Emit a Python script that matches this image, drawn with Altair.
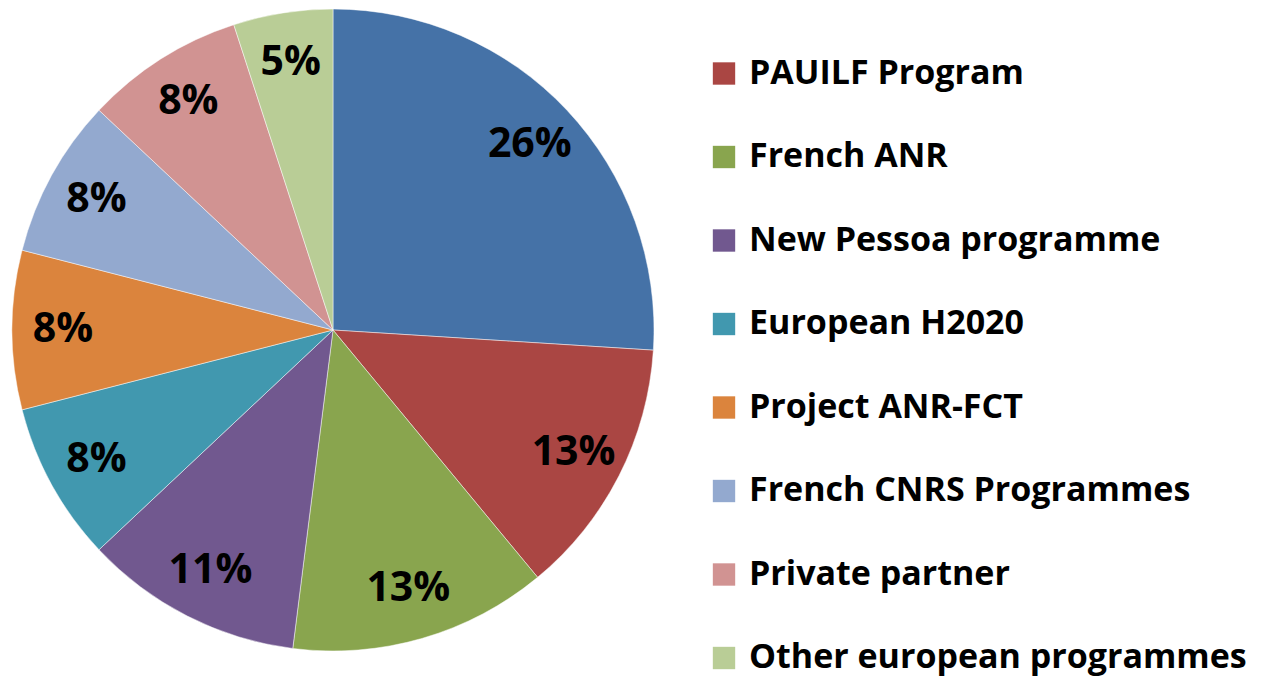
import altair as alt
import pandas as pd

categories = ["Other", "PAUILF Program", "French ANR", "New Pessoa programme",
              "European H2020", "Project ANR-FCT", "French CNRS Programmes",
              "Private partner", "Other european programmes"]
shares = [26, 13, 13, 11, 8, 8, 8, 8, 5]
colors = ["#4572A7", "#AA4643", "#89A54E", "#71588F", "#4198AF",
          "#DB843D", "#93A9CF", "#D19392", "#B9CD96"]

df = pd.DataFrame({
    "category": categories,
    "share": shares,
    "idx": list(range(len(categories))),
    "label": [f"{s}%" for s in shares],
})

FONT = "Open Sans"
color = alt.Color("category:N", scale=alt.Scale(domain=categories, range=colors), legend=None)
theta = alt.Theta("share:Q", stack=True)
order = alt.Order("idx:Q")
cx, cy = 325, 322

base = alt.Chart(df)

arcs = base.mark_arc(outerRadius=321, stroke="#ffffff", strokeWidth=0.8, strokeOpacity=0.6).encode(
    theta=theta, color=color, order=order,
    x=alt.value(cx), y=alt.value(cy),
)

labels = base.mark_text(radius=270, font=FONT, fontWeight="bold", fontSize=41,
                        color="#000000", align="center", baseline="middle").encode(
    theta=theta, order=order, text="label:N",
    x=alt.value(cx), y=alt.value(cy),
)

ypos = alt.Y("category:N", scale=alt.Scale(domain=categories, range=[-18, 650], padding=0), axis=None)

squares = base.mark_square(size=500, opacity=1).encode(
    x=alt.value(716), y=ypos, color=color,
)
legend_text = base.mark_text(font=FONT, fontWeight="bold", fontSize=34, align="left",
                             baseline="middle", color="#000000", dy=0).encode(
    x=alt.value(741), y=ypos, text="category:N",
)

chart = alt.layer(arcs, labels, squares, legend_text).properties(
    width=1256, height=671,
    autosize=alt.AutoSizeParams(type="none"),
    padding=0,
).configure_view(stroke=None)

chart.save("out.html", embed_options={"renderer": "svg", "actions": False})
